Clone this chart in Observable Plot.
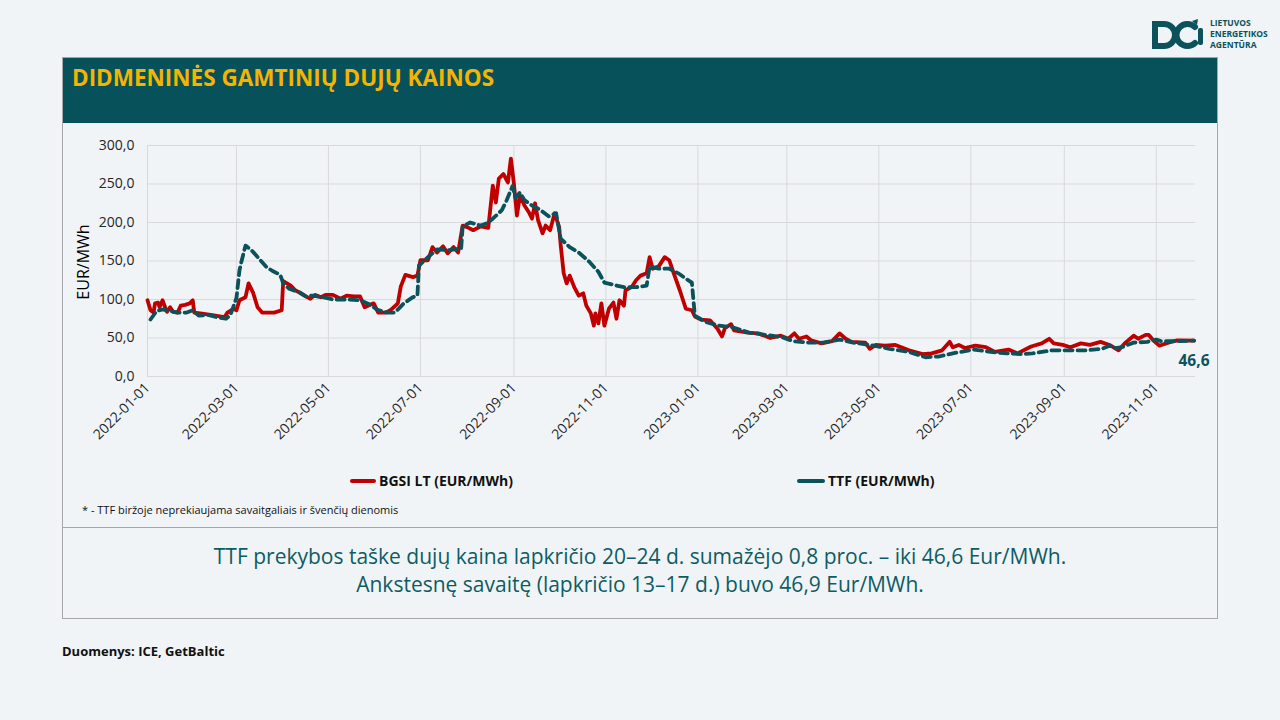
<!DOCTYPE html>
<html><head><meta charset="utf-8">
<script src="https://cdn.jsdelivr.net/npm/d3@7"></script>
<script src="https://cdn.jsdelivr.net/npm/@observablehq/plot@0.6"></script>
<style>
html,body{margin:0;padding:0}
body{width:1280px;height:720px;background:#f0f4f7;font-family:"Open Sans",sans-serif;position:relative;overflow:hidden}
.abs{position:absolute}
#panel{left:62px;top:57px;width:1156px;height:562px;box-sizing:border-box;border:1px solid #a6a6a6}
#header{left:63px;top:58px;width:1154px;height:65px;background:#07525a}
#title{left:72px;top:64px;color:#f5b400;font-weight:700;font-size:22.5px;line-height:28px;white-space:nowrap}
#chart{left:62px;top:124px}
#ylabel{left:83px;top:262px;transform:translate(-50%,-50%) rotate(-90deg);font-size:16px;color:#000;white-space:nowrap}
.sw{height:4px;border-radius:2px}
.lg{font-weight:700;font-size:14px;line-height:18px;color:#111;white-space:nowrap}
#note{left:82px;top:502px;font-size:11px;line-height:16px;color:#111;white-space:nowrap}
#sep{left:62px;top:527px;width:1156px;height:1px;background:#a6a6a6}
#summary{left:62px;top:542px;width:1156px;text-align:center;color:#0e5c63;font-size:21px;line-height:28px}
#source{left:62px;top:642px;font-weight:700;font-size:13px;line-height:18px;color:#111;white-space:nowrap}
#logo{left:1148px;top:16px}
.lt{font-weight:700;font-size:8.5px;fill:#0b525b;font-family:"Open Sans",sans-serif}
</style></head>
<body>
<div id="panel" class="abs"></div>
<div id="header" class="abs"></div>
<div id="title" class="abs">DIDMENINĖS GAMTINIŲ DUJŲ KAINOS</div>
<div id="chart" class="abs"></div>
<div id="ylabel" class="abs">EUR/MWh</div>
<div id="legend"></div>
<div id="note" class="abs">* - TTF biržoje neprekiaujama savaitgaliais ir švenčių dienomis</div>
<div id="sep" class="abs"></div>
<div id="summary" class="abs"></div>
<div id="source" class="abs">Duomenys: ICE, GetBaltic</div>
<svg id="logo" class="abs" width="130" height="40" viewBox="0 0 130 40">
  <path d="M7,8 h9 a11,11 0 0 1 0,22 h-9 z" fill="none" stroke="#0b525b" stroke-width="6"/>
  <path d="M47,11 a11,11 0 1 0 0,16" fill="none" stroke="#0b525b" stroke-width="6" stroke-linecap="round"/>
  <path d="M44,5 l6,-2 l-1,6 z" fill="#0b525b"/>
  <rect x="50" y="12" width="5" height="17" rx="2" fill="#0b525b"/>
  <text class="lt" x="62" y="10">LIETUVOS</text>
  <text class="lt" x="62" y="21">ENERGETIKOS</text>
  <text class="lt" x="62" y="32">AGENTŪRA</text>
</svg>
<script>
const seriesNames = ["BGSI LT (EUR/MWh)", "TTF (EUR/MWh)"];
const xTickLabels = ["2022-01-01","2022-03-01","2022-05-01","2022-07-01","2022-09-01","2022-11-01","2023-01-01","2023-03-01","2023-05-01","2023-07-01","2023-09-01","2023-11-01"];
const yTickValues = [0,50,100,150,200,250,300];

const bgsiDates = ["2022-01-01","2022-01-03","2022-01-05","2022-01-06","2022-01-08","2022-01-09","2022-01-11","2022-01-13","2022-01-14","2022-01-16","2022-01-18","2022-01-21","2022-01-23","2022-01-26","2022-01-29","2022-01-31","2022-02-01","2022-02-05","2022-02-12","2022-02-18","2022-02-21","2022-02-23","2022-02-27","2022-03-01","2022-03-03","2022-03-07","2022-03-09","2022-03-12","2022-03-15","2022-03-18","2022-03-26","2022-03-31","2022-04-01","2022-04-06","2022-04-09","2022-04-12","2022-04-16","2022-04-19","2022-04-22","2022-04-26","2022-04-29","2022-05-04","2022-05-09","2022-05-13","2022-05-18","2022-05-22","2022-05-25","2022-05-31","2022-06-03","2022-06-08","2022-06-11","2022-06-16","2022-06-18","2022-06-21","2022-06-26","2022-06-29","2022-07-01","2022-07-06","2022-07-09","2022-07-12","2022-07-16","2022-07-19","2022-07-23","2022-07-26","2022-07-29","2022-08-01","2022-08-05","2022-08-10","2022-08-15","2022-08-18","2022-08-20","2022-08-22","2022-08-25","2022-08-28","2022-08-30","2022-09-01","2022-09-03","2022-09-05","2022-09-08","2022-09-11","2022-09-13","2022-09-15","2022-09-17","2022-09-20","2022-09-22","2022-09-25","2022-09-28","2022-10-01","2022-10-02","2022-10-04","2022-10-06","2022-10-08","2022-10-11","2022-10-14","2022-10-17","2022-10-19","2022-10-22","2022-10-24","2022-10-25","2022-10-27","2022-10-29","2022-10-31","2022-11-03","2022-11-06","2022-11-08","2022-11-10","2022-11-13","2022-11-14","2022-11-18","2022-11-21","2022-11-24","2022-11-28","2022-11-30","2022-12-02","2022-12-06","2022-12-10","2022-12-13","2022-12-16","2022-12-20","2022-12-24","2022-12-28","2022-12-30","2023-01-03","2023-01-09","2023-01-14","2023-01-17","2023-01-19","2023-01-23","2023-01-25","2023-02-03","2023-02-10","2023-02-18","2023-02-25","2023-03-02","2023-03-06","2023-03-09","2023-03-14","2023-03-17","2023-03-24","2023-03-31","2023-04-05","2023-04-09","2023-04-13","2023-04-22","2023-04-25","2023-04-29","2023-05-05","2023-05-12","2023-05-21","2023-05-30","2023-06-05","2023-06-12","2023-06-17","2023-06-19","2023-06-23","2023-06-27","2023-07-04","2023-07-11","2023-07-17","2023-07-26","2023-08-01","2023-08-10","2023-08-17","2023-08-22","2023-08-25","2023-08-31","2023-09-05","2023-09-12","2023-09-18","2023-09-25","2023-10-01","2023-10-07","2023-10-11","2023-10-17","2023-10-20","2023-10-25","2023-10-27","2023-10-30","2023-11-03","2023-11-09","2023-11-15","2023-11-26"];
const bgsiValues = [99,86,83,95,96,90,99,88,84,90,84,83,92,93,95,99,83,82,80,78,77,83,88,86,99,103,121,109,90,83,83,86,124,118,112,109,104,101,106,103,106,106,101,105,104,104,90,95,83,83,86,95,117,132,129,131,151,151,168,161,169,160,168,161,196,194,190,195,193,248,226,257,263,252,283,250,209,235,222,213,205,225,203,186,196,190,212,194,171,134,121,131,116,105,108,92,82,66,82,69,95,66,88,96,75,99,92,112,116,125,131,134,155,140,143,155,151,134,112,88,86,78,74,73,62,52,63,68,60,57,56,50,53,49,56,49,52,47,43,46,56,49,45,44,36,41,40,41,34,29,30,34,45,38,41,37,40,38,32,35,30,39,43,49,43,41,38,43,41,45,41,34,43,53,49,54,54,47,40,44,47,46.6];

const ttfDates = ["2022-01-03","2022-01-07","2022-01-11","2022-01-16","2022-01-21","2022-01-27","2022-01-31","2022-02-04","2022-02-10","2022-02-16","2022-02-22","2022-02-25","2022-03-01","2022-03-03","2022-03-04","2022-03-07","2022-03-11","2022-03-16","2022-03-21","2022-03-25","2022-03-30","2022-04-01","2022-04-05","2022-04-12","2022-04-16","2022-04-20","2022-04-27","2022-05-04","2022-05-13","2022-05-22","2022-05-29","2022-06-02","2022-06-09","2022-06-14","2022-06-20","2022-06-26","2022-06-29","2022-06-30","2022-07-06","2022-07-12","2022-07-19","2022-07-28","2022-07-29","2022-08-03","2022-08-10","2022-08-14","2022-08-18","2022-08-24","2022-08-27","2022-08-31","2022-09-02","2022-09-05","2022-09-08","2022-09-13","2022-09-18","2022-09-24","2022-09-29","2022-10-02","2022-10-08","2022-10-14","2022-10-21","2022-10-27","2022-10-31","2022-11-06","2022-11-13","2022-11-21","2022-11-28","2022-11-30","2022-12-06","2022-12-13","2022-12-19","2022-12-24","2022-12-28","2022-12-30","2023-01-06","2023-01-15","2023-01-24","2023-02-04","2023-02-15","2023-02-26","2023-03-05","2023-03-15","2023-03-25","2023-04-05","2023-04-14","2023-04-25","2023-05-08","2023-05-21","2023-06-01","2023-06-10","2023-06-19","2023-07-03","2023-07-14","2023-07-25","2023-08-04","2023-08-11","2023-08-24","2023-09-05","2023-09-16","2023-09-26","2023-10-01","2023-10-05","2023-10-09","2023-10-17","2023-10-26","2023-11-01","2023-11-04","2023-11-15","2023-11-26"];
const ttfValues = [74,85,87,85,83,83,86,79,80,77,75,80,102,138,147,170,164,153,142,137,132,121,114,109,104,105,103,100,100,99,93,87,83,83,95,103,105,144,155,165,164,166,195,200,196,199,205,216,228,247,232,239,229,222,217,208,212,179,168,161,149,136,122,119,116,116,118,143,140,140,134,127,122,79,71,66,64,57,54,51,46,44,44,48,44,41,36,32,25,26,30,35,32,30,29,30,34,34,34,36,40,37,38,44,45,48,46,46,46.6];

const summaryLines = [
  "TTF prekybos taške dujų kaina lapkričio 20–24 d. sumažėjo 0,8 proc. – iki 46,6 Eur/MWh.",
  "Ankstesnę savaitę (lapkričio 13–17 d.) buvo 46,9 Eur/MWh."
];

const red = "#c00000", teal = "#0b525b";
const bgsi = bgsiDates.map((d, i) => ({date: new Date(d), value: bgsiValues[i]}));
const ttf = ttfDates.map((d, i) => ({date: new Date(d), value: ttfValues[i]}));
const xTicks = xTickLabels.map(d => new Date(d));
const fmt = v => v.toFixed(1).replace(".", ",");

const chart = Plot.plot({
  width: 1155, height: 345,
  marginLeft: 85, marginRight: 22, marginTop: 21, marginBottom: 93,
  style: {background: "transparent", fontFamily: "Open Sans, sans-serif", fontSize: "14px", color: "#262626", overflow: "visible"},
  x: {type: "utc", domain: [new Date("2022-01-01"), new Date("2023-11-27")], ticks: xTicks, tickFormat: d3.utcFormat("%Y-%m-%d"), tickRotate: -45, tickSize: 0, tickPadding: 9, label: null},
  y: {domain: [0, 300], ticks: yTickValues, tickFormat: fmt, tickSize: 0, tickPadding: 13, label: null},
  marks: [
    Plot.gridX(xTicks, {stroke: "#d9d9d9", strokeOpacity: 1, strokeWidth: 1}),
    Plot.gridY(yTickValues, {stroke: "#d9d9d9", strokeOpacity: 1, strokeWidth: 1}),
    Plot.line(bgsi, {x: "date", y: "value", stroke: red, strokeWidth: 3.8}),
    Plot.line(ttf, {x: "date", y: "value", stroke: teal, strokeWidth: 3.8, strokeDasharray: "8,5"}),
    Plot.text([ttf[ttf.length - 1]], {x: "date", y: "value", text: d => fmt(d.value), dy: 20, fill: teal, fontWeight: 700, fontSize: 15.5, textAnchor: "middle"})
  ]
});
document.getElementById("chart").appendChild(chart);

// legend
const legend = document.getElementById("legend");
[[seriesNames[0], red, 350, 379], [seriesNames[1], teal, 797, 828]].forEach(([name, color, sx, tx]) => {
  const sw = document.createElement("div");
  sw.className = "abs sw";
  sw.style.cssText = `left:${sx}px;top:479px;width:${tx - sx - 3}px;background:${color}`;
  legend.appendChild(sw);
  const t = document.createElement("div");
  t.className = "abs lg";
  t.style.cssText = `left:${tx}px;top:472px`;
  t.textContent = name;
  legend.appendChild(t);
});

document.getElementById("summary").innerHTML = summaryLines.map(s => `<div>${s}</div>`).join("");
</script>
</body></html>
